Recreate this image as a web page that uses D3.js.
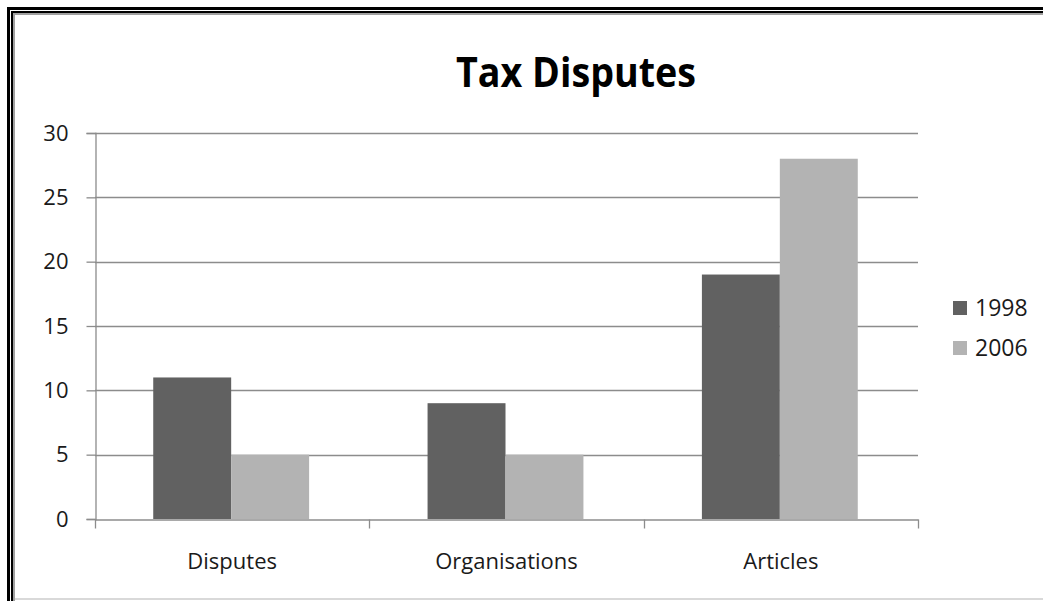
<!DOCTYPE html>
<html>
<head>
<meta charset="utf-8">
<script src="https://cdn.jsdelivr.net/npm/d3@7"></script>
<style>
  html, body { margin: 0; padding: 0; background: #fff; }
  svg { display: block; }
  text { font-family: "Open Sans", "Noto Sans", sans-serif; }
</style>
</head>
<body>
<svg id="chart" width="1043" height="601"></svg>
<script>
const title = "Tax Disputes";
const categories = ["Disputes", "Organisations", "Articles"];
const seriesNames = ["1998", "2006"];
const values1998 = [11, 9, 19];
const values2006 = [5, 5, 28];
const yTicks = [0, 5, 10, 15, 20, 25, 30];
const colors = ["#616161", "#b3b3b3"];

const seriesValues = [values1998, values2006];
const svg = d3.select("#chart");
const W = 1043, H = 601;

// frame
const frame = svg.append("g");
frame.append("rect").attr("x", 7).attr("y", 7).attr("width", W + 20).attr("height", 3).attr("fill", "#000");
frame.append("rect").attr("x", 7).attr("y", 7).attr("width", 3).attr("height", H).attr("fill", "#000");
frame.append("rect").attr("x", 11).attr("y", 11).attr("width", W + 20).attr("height", 2).attr("fill", "#000");
frame.append("rect").attr("x", 11).attr("y", 11).attr("width", 2).attr("height", H).attr("fill", "#000");
frame.append("rect").attr("x", 13).attr("y", 13).attr("width", W + 20).attr("height", 2).attr("fill", "#a0a0a0");
frame.append("rect").attr("x", 13).attr("y", 13).attr("width", 2).attr("height", H).attr("fill", "#a0a0a0");
frame.append("rect").attr("x", 15).attr("y", 598).attr("width", W).attr("height", 2).attr("fill", "#d9d9d9");

const pLeft = 95, pRight = 918, pTop = 133, pBottom = 519;
const labelSize = 22;

const x0 = d3.scaleBand().domain(categories).range([pLeft, pRight]).padding(0);
const x1 = d3.scaleBand().domain(seriesNames).range([0, x0.bandwidth()]).paddingInner(0).paddingOuter(0.76);
const y = d3.scaleLinear().domain([0, 30]).range([pBottom, pTop]);

// gridlines
svg.append("g").selectAll("line").data(yTicks.filter(d => d > 0)).join("line")
  .attr("x1", pLeft).attr("x2", pRight)
  .attr("y1", d => Math.round(y(d)) + 0.5).attr("y2", d => Math.round(y(d)) + 0.5)
  .attr("stroke", "#8c8c8c").attr("stroke-width", 1.3);

// bars
const groups = svg.append("g").selectAll("g").data(categories).join("g")
  .attr("transform", c => `translate(${x0(c)},0)`);
groups.selectAll("rect").data((c, i) => seriesNames.map((s, j) => ({ s, v: seriesValues[j][i], j })))
  .join("rect")
  .attr("x", d => x1(d.s) - 1).attr("width", x1.bandwidth())
  .attr("y", d => y(d.v)).attr("height", d => y(0) - y(d.v))
  .attr("fill", d => colors[d.j]);

// y axis
const yAxis = svg.append("g").attr("transform", `translate(${pLeft + 0.5},0)`)
  .call(d3.axisLeft(y).tickValues(yTicks).tickSize(9).tickPadding(18).tickFormat(d3.format("d")));
yAxis.select(".domain").attr("stroke", "#8c8c8c").attr("stroke-width", 1.3);
yAxis.selectAll(".tick line").attr("stroke", "#8c8c8c").attr("stroke-width", 1.3);
yAxis.selectAll(".tick text").attr("font-size", labelSize).attr("fill", "#1a1a1a")
  .attr("font-family", "Open Sans");

// x axis
const xAxis = svg.append("g").attr("transform", `translate(0,${pBottom + 0.5})`)
  .call(d3.axisBottom(x0).tickSize(0).tickPadding(34));
xAxis.select(".domain").attr("stroke", "#8c8c8c").attr("stroke-width", 1.3);
xAxis.selectAll(".tick text").attr("font-size", labelSize).attr("fill", "#1a1a1a")
  .attr("font-family", "Open Sans");
// category boundary ticks
const bounds = categories.map(c => x0(c)).concat([x0(categories[categories.length - 1]) + x0.bandwidth()]);
xAxis.append("g").selectAll("line").data(bounds).join("line")
  .attr("x1", d => Math.round(d) + 0.5).attr("x2", d => Math.round(d) + 0.5)
  .attr("y1", 0).attr("y2", 9).attr("stroke", "#8c8c8c").attr("stroke-width", 1.3);

// title
svg.append("text").attr("x", 576).attr("y", 87)
  .attr("text-anchor", "middle").attr("font-size", 42).attr("font-weight", "bold")
  .attr("textLength", 240).attr("lengthAdjust", "spacingAndGlyphs")
  .attr("fill", "#000").text(title);

// legend
const legend = svg.append("g").selectAll("g").data(seriesNames).join("g")
  .attr("transform", (d, i) => `translate(953,${301 + i * 40})`);
legend.append("rect").attr("width", 14).attr("height", 14).attr("fill", (d, i) => colors[i]);
legend.append("text").attr("x", 22).attr("y", 15).attr("font-size", 23).attr("fill", "#1a1a1a").text(d => d);
</script>
</body>
</html>
